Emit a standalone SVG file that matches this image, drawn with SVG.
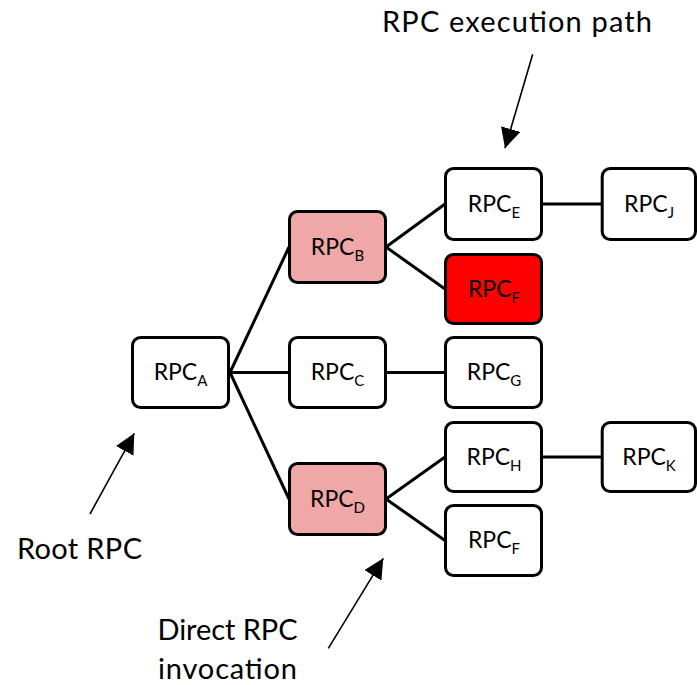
<svg xmlns="http://www.w3.org/2000/svg" width="697" height="685" viewBox="0 0 697 685">
<style>
.box{fill:#ffffff;stroke:#000000;stroke-width:3}
.pink{fill:#EFA7A7}
.red{fill:#FF0000}
.lbl{font-family:Lato,"Open Sans",sans-serif;font-size:23px;fill:#000;text-anchor:middle}
.sub{font-size:15px}
.ann{font-family:Lato,"Open Sans",sans-serif;font-size:29px;fill:#000}
.edge{stroke:#000;stroke-width:3;fill:none}
.arr{stroke:#000;stroke-width:1.6;fill:none;marker-end:url(#tri)}
</style>
<defs>
<marker id="tri" viewBox="0 0 20 20" refX="20" refY="10" markerWidth="20" markerHeight="20" markerUnits="userSpaceOnUse" orient="auto">
<path d="M0,0 L20,10 L0,20 z" fill="#000"/>
</marker>
</defs>
<rect width="697" height="685" fill="#ffffff"/>
<g id="connectors">
<line class="edge" x1="230" y1="372.5" x2="289" y2="247"/>
<line class="edge" x1="230" y1="372.5" x2="289" y2="372.5"/>
<line class="edge" x1="230" y1="372.5" x2="289" y2="499"/>
<line class="edge" x1="386" y1="247" x2="445" y2="204"/>
<line class="edge" x1="386" y1="247" x2="445" y2="289"/>
<line class="edge" x1="386" y1="372.5" x2="445" y2="372.5"/>
<line class="edge" x1="386" y1="499" x2="445" y2="457"/>
<line class="edge" x1="386" y1="499" x2="445" y2="540.5"/>
<line class="edge" x1="542" y1="204" x2="602" y2="204"/>
<line class="edge" x1="542" y1="457" x2="602" y2="457"/>
<line class="arr" x1="532.7" y1="54.3" x2="505" y2="148.3"/>
<line class="arr" x1="90" y1="514" x2="134.3" y2="433.3"/>
<line class="arr" x1="328.3" y1="648.3" x2="383.3" y2="558.3"/>
</g>
<g id="node-A"><rect class="box" x="132.5" y="337.5" width="96" height="70" rx="8"/><text class="lbl" x="180.5" y="380">RPC<tspan class="sub" dy="6">A</tspan></text></g>
<g id="node-B"><rect class="box pink" x="289.5" y="211.5" width="96" height="71" rx="8"/><text class="lbl" x="337.5" y="254.5">RPC<tspan class="sub" dy="6">B</tspan></text></g>
<g id="node-C"><rect class="box" x="289.5" y="337.5" width="96" height="70" rx="8"/><text class="lbl" x="337.5" y="380">RPC<tspan class="sub" dy="6">C</tspan></text></g>
<g id="node-D"><rect class="box pink" x="289.5" y="463.5" width="96" height="71" rx="8"/><text class="lbl" x="337.5" y="506.5">RPC<tspan class="sub" dy="6">D</tspan></text></g>
<g id="node-E"><rect class="box" x="445.5" y="168.5" width="96" height="71" rx="8"/><text class="lbl" x="494" y="211.5">RPC<tspan class="sub" dy="6">E</tspan></text></g>
<g id="node-F"><rect class="box red" x="445.5" y="254.5" width="96" height="69" rx="8"/><text class="lbl" x="494" y="296.5">RPC<tspan class="sub" dy="6">F</tspan></text></g>
<g id="node-G"><rect class="box" x="445.5" y="337.5" width="96" height="70" rx="8"/><text class="lbl" x="494" y="380">RPC<tspan class="sub" dy="6">G</tspan></text></g>
<g id="node-H"><rect class="box" x="445.5" y="422.5" width="96" height="69" rx="8"/><text class="lbl" x="494" y="464.5">RPC<tspan class="sub" dy="6">H</tspan></text></g>
<g id="node-F2"><rect class="box" x="445.5" y="505.5" width="96" height="70" rx="8"/><text class="lbl" x="494" y="548">RPC<tspan class="sub" dy="6">F</tspan></text></g>
<g id="node-J"><rect class="box" x="602.2" y="168.5" width="93.3" height="71" rx="8"/><text class="lbl" x="649" y="211.5">RPC<tspan class="sub" dy="6">J</tspan></text></g>
<g id="node-K"><rect class="box" x="602.2" y="422.5" width="93.3" height="69" rx="8"/><text class="lbl" x="649" y="464.5">RPC<tspan class="sub" dy="6">K</tspan></text></g>
<g id="annotations">
<text class="ann" x="382" y="32" textLength="270">RPC execution path</text>
<text class="ann" x="17" y="559" textLength="125">Root RPC</text>
<text class="ann" x="157.5" y="640" textLength="140">Direct RPC</text>
<text class="ann" x="158" y="679" textLength="139">invocation</text>
</g>
</svg>
